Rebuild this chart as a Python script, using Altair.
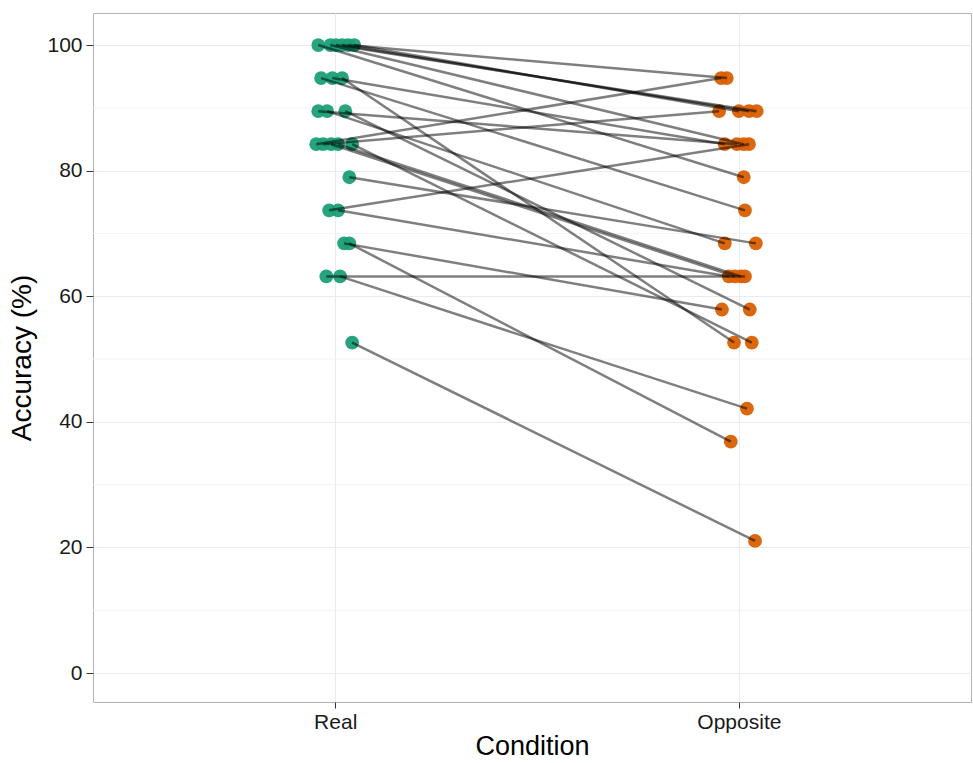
import altair as alt
import pandas as pd

# Paired accuracy (%) per participant in the two conditions
real_acc = [100.0, 100.0, 100.0, 100.0, 100.0, 100.0,
            94.74, 94.74, 94.74,
            89.47, 89.47, 89.47,
            84.21, 84.21, 84.21, 84.21, 84.21,
            78.95, 73.68, 73.68, 68.42, 68.42, 63.16, 63.16, 52.63]
opp_acc = [94.74, 89.47, 89.47, 89.47, 84.21, 78.95,
           73.68, 84.21, 52.63,
           84.21, 68.42, 57.89,
           94.74, 89.47, 63.16, 63.16, 52.63,
           68.42, 84.21, 63.16, 57.89, 36.84, 63.16, 42.11, 21.05]

# Horizontal jitter (in category units) applied to each point
real_jit = [0.032, 0.047, 0.017, 0.002, -0.012, -0.042,
            -0.035, -0.007, 0.017,
            -0.042, -0.020, 0.025,
            -0.047, -0.030, -0.010, 0.007, 0.042,
            0.035, -0.015, 0.007, 0.022, 0.035, -0.022, 0.012, 0.042]
opp_jit = [-0.030, 0.000, 0.025, 0.044, 0.012, 0.012,
           0.015, -0.035, -0.012,
           -0.005, -0.035, 0.027,
           -0.044, -0.049, -0.010, 0.005, 0.032,
           0.042, 0.025, -0.025, -0.042, -0.020, 0.015, 0.020, 0.040]

conditions = ["Real", "Opposite"]
cond_colors = ["#1B9E77", "#D95F02"]

# Minor gridline positions between the labelled ticks
minor_ticks = [10, 30, 50, 70, 90]

rows = []
for i in range(len(real_acc)):
    rows.append({"subject": i, "condition": "Real", "x": 1 + real_jit[i], "acc": real_acc[i]})
    rows.append({"subject": i, "condition": "Opposite", "x": 2 + opp_jit[i], "acc": opp_acc[i]})
df = pd.DataFrame(rows)

W, H = 878, 689
FONT = "Liberation Sans"
y_scale = alt.Scale(domain=[-4.6, 105.1], nice=False, zero=False)

x_enc = alt.X(
    "x:Q",
    scale=alt.Scale(domain=[0.4, 2.575], nice=False, zero=False),
    axis=alt.Axis(
        values=[1, 2],
        labelExpr="datum.value == 1 ? 'Real' : 'Opposite'",
        title="Condition",
        grid=True,
        gridColor="#EBEBEB",
        tickSize=6,
        tickColor="#333333",
        domain=False,
        labelFontSize=21,
        labelColor="#1A1A1A",
        labelFont=FONT,
        titleFont=FONT,
        titleFontSize=27,
        titleFontWeight="normal",
        titleColor="#000000",
        labelPadding=3,
        titlePadding=1,
    ),
)
y_enc = alt.Y(
    "acc:Q",
    scale=y_scale,
    axis=alt.Axis(
        values=[0, 20, 40, 60, 80, 100],
        title="Accuracy (%)",
        grid=True,
        gridColor="#EBEBEB",
        tickSize=7,
        tickColor="#333333",
        domain=False,
        labelFontSize=21,
        labelColor="#1A1A1A",
        labelFont=FONT,
        titleFont=FONT,
        titleFontSize=28,
        titleFontWeight="normal",
        titleColor="#000000",
        labelPadding=4,
        titlePadding=10,
    ),
)

minor = alt.Chart(pd.DataFrame({"acc": minor_ticks})).mark_rule(
    color="#F3F3F3", strokeWidth=1
).encode(
    y=y_enc,
    x=alt.value(0),
    x2=alt.value(W),
)

base = alt.Chart(df)
points = base.mark_circle(size=190, opacity=0.95).encode(
    x=x_enc,
    y=y_enc,
    color=alt.Color("condition:N", scale=alt.Scale(domain=conditions, range=cond_colors), legend=None),
)
lines = base.mark_line(color="black", opacity=0.5, strokeWidth=2.5).encode(
    x="x:Q",
    y="acc:Q",
    detail="subject:N",
)

chart = (
    alt.layer(minor, points, lines)
    .properties(
        width=W,
        height=H,
        autosize=alt.AutoSizeParams(type="none"),
        padding={"left": 93, "top": 13, "right": 2, "bottom": 61},
        background="white",
    )
    .configure_view(stroke="#B3B3B3", strokeWidth=1)
)

chart.save("out.html", embed_options={"renderer": "svg", "actions": False})
